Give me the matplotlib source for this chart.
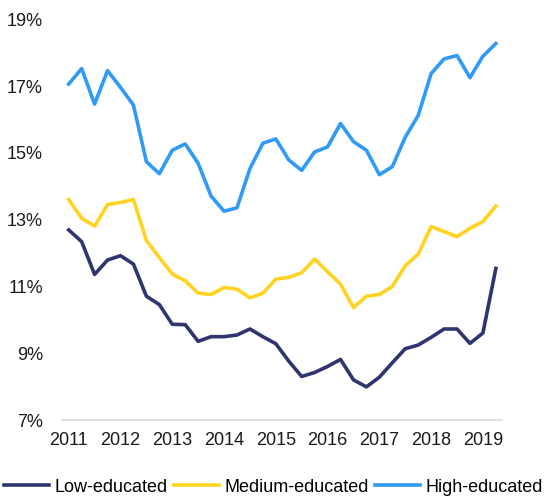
import matplotlib.pyplot as plt
import numpy as np

plt.rcParams["font.family"] = ["Liberation Sans", "DejaVu Sans"]

# quarterly data 2011Q1 .. 2019Q2
years = ["2011", "2012", "2013", "2014", "2015", "2016", "2017", "2018", "2019"]

low_edu = [12.67, 12.32, 11.34, 11.77, 11.90, 11.65, 10.69, 10.44, 9.85, 9.84,
           9.34, 9.48, 9.48, 9.53, 9.71, 9.48, 9.27, 8.75, 8.29, 8.41,
           8.59, 8.80, 8.19, 7.98, 8.27, 8.70, 9.12, 9.23, 9.46, 9.71,
           9.71, 9.28, 9.59, 11.52]
medium_edu = [13.58, 13.02, 12.78, 13.43, 13.49, 13.58, 12.35, 11.85, 11.35, 11.15,
              10.78, 10.74, 10.95, 10.90, 10.64, 10.78, 11.20, 11.25, 11.39, 11.80,
              11.42, 11.05, 10.35, 10.69, 10.74, 10.98, 11.60, 11.95, 12.77, 12.62,
              12.47, 12.72, 12.92, 13.38]
high_edu = [17.03, 17.49, 16.43, 17.43, 16.93, 16.40, 14.71, 14.35, 15.05, 15.24,
            14.66, 13.68, 13.23, 13.33, 14.50, 15.26, 15.39, 14.76, 14.45, 15.00,
            15.15, 15.85, 15.31, 15.05, 14.32, 14.56, 15.44, 16.09, 17.34, 17.78,
            17.88, 17.22, 17.86, 18.24]

x = np.arange(len(low_edu))

fig = plt.figure(figsize=(5.46, 5.02), dpi=100)
ax = fig.add_axes([0.114, 0.162, 0.806, 0.8])

ax.plot(x, low_edu, color="#2f356f", linewidth=2.6, label="Low-educated")
ax.plot(x, medium_edu, color="#ffd320", linewidth=2.6, label="Medium-educated")
ax.plot(x, high_edu, color="#2f9bf7", linewidth=2.6, label="High-educated")

ax.set_xlim(-0.5, len(x) - 0.5)
ax.set_ylim(7, 19)
ax.set_yticks(np.arange(7, 20, 2))
ax.set_yticklabels([f"{v}%" for v in range(7, 20, 2)])
ax.set_xticks(x[::4])
ax.set_xticklabels(years)

for s in ["top", "right", "left"]:
    ax.spines[s].set_visible(False)
ax.spines["bottom"].set_color("#d9d9d9")
ax.spines["bottom"].set_linewidth(1.2)
ax.tick_params(axis="both", length=0, labelsize=13, colors="#1a1a1a")
ax.tick_params(axis="y", pad=14)
ax.tick_params(axis="x", pad=8)

fig.legend(loc="lower left", bbox_to_anchor=(0.004, 0.008), ncol=3,
           frameon=False, fontsize=13, handlelength=2.5, handletextpad=0.3,
           columnspacing=0.35, borderpad=0.1, borderaxespad=0)

fig.savefig("out.png", dpi=100)
